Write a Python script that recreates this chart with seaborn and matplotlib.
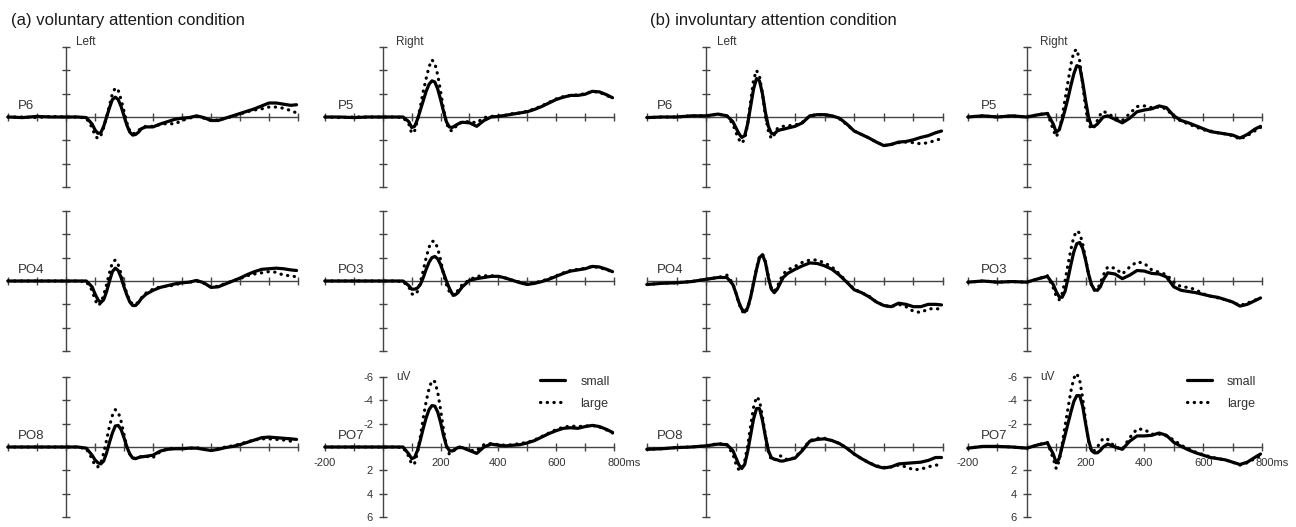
import numpy as np
import pandas as pd
import matplotlib
matplotlib.use("Agg")
import matplotlib.pyplot as plt
import seaborn as sns
from matplotlib.lines import Line2D
from matplotlib.transforms import ScaledTranslation

# ---------------------------------------------------------------------------
# data (uV; negative is up)
# ---------------------------------------------------------------------------
times = [-200, -150, -100, -50, 0, 40, 70, 90,
         100, 110, 120, 130, 140, 150, 160, 170, 180, 190, 200, 210, 220, 230, 240, 250, 260,
         275, 300, 325, 350, 375, 400, 425, 450, 475, 500,
         525, 550, 575, 600, 625, 650, 675, 700, 725, 750, 775, 795]

# (a) voluntary attention condition
a_p6_small = [0.0, 0.05, -0.05, 0.0, 0.0, 0.0, 0.05, 0.6,
              1.1, 1.4, 1.35, 0.8, 0.0, -0.8, -1.5, -1.7, -1.5, -0.9, -0.1, 0.7, 1.3, 1.55, 1.5, 1.3, 1.0,
              0.85, 0.85, 0.6, 0.4, 0.2, 0.1, 0.05, -0.1, 0.05, 0.3,
              0.3, 0.1, -0.1, -0.3, -0.5, -0.7, -0.95, -1.2, -1.2, -1.1, -1.0, -1.05]
a_p6_large = [0.0, 0.0, 0.05, -0.05, 0.0, 0.0, 0.1, 0.9,
              1.6, 1.85, 1.6, 0.9, 0.0, -1.0, -2.0, -2.5, -2.3, -1.5, -0.5, 0.5, 1.2, 1.45, 1.35, 1.15, 0.95,
              0.8, 0.8, 0.65, 0.55, 0.6, 0.3, 0.1, -0.05, 0.1, 0.3,
              0.25, 0.1, -0.05, -0.25, -0.45, -0.6, -0.7, -0.85, -0.85, -0.75, -0.55, -0.35]
a_p5_small = [0.0, 0.0, 0.05, 0.0, 0.0, 0.0, 0.0, 0.4,
              0.9, 0.8, 0.2, -0.6, -1.4, -2.2, -2.8, -3.1, -3.0, -2.4, -1.5, -0.5, 0.4, 0.85, 0.9, 0.75, 0.6,
              0.45, 0.5, 0.8, 0.3, 0.0, -0.05, -0.15, -0.25, -0.35, -0.45,
              -0.65, -0.9, -1.2, -1.5, -1.7, -1.85, -1.85, -1.95, -2.2, -2.15, -1.9, -1.65]
a_p5_large = [0.0, 0.05, 0.0, 0.0, 0.0, 0.0, 0.05, 0.6,
              1.4, 1.2, 0.3, -0.9, -2.2, -3.3, -4.3, -4.9, -4.6, -3.6, -2.2, -0.7, 0.5, 1.1, 1.2, 0.9, 0.6,
              0.4, 0.4, 0.5, 0.05, -0.05, -0.1, -0.15, -0.3, -0.35, -0.5,
              -0.7, -0.95, -1.25, -1.55, -1.75, -1.85, -1.9, -2.0, -2.2, -2.1, -1.85, -1.6]
a_po4_small = [0.0, 0.0, 0.0, 0.0, 0.0, 0.0, 0.0, 0.5,
               1.1, 1.6, 1.85, 1.6, 0.9, 0.0, -0.8, -1.1, -0.9, -0.3, 0.5, 1.2, 1.8, 2.1, 2.1, 1.85, 1.5,
               1.15, 0.8, 0.55, 0.4, 0.25, 0.15, 0.1, -0.05, 0.15, 0.55,
               0.5, 0.25, 0.0, -0.25, -0.55, -0.8, -1.0, -1.05, -1.1, -1.05, -0.95, -0.9]
a_po4_large = [0.0, 0.0, 0.0, 0.0, 0.0, 0.0, 0.05, 0.8,
               1.6, 2.1, 1.9, 1.2, 0.3, -0.7, -1.6, -1.8, -1.4, -0.6, 0.3, 1.1, 1.7, 2.0, 2.0, 1.8, 1.45,
               1.05, 0.7, 0.5, 0.45, 0.35, 0.15, 0.1, 0.0, 0.2, 0.5,
               0.45, 0.2, 0.0, -0.2, -0.45, -0.6, -0.7, -0.8, -0.75, -0.5, -0.45, -0.35]
a_po3_small = [0.0, 0.0, 0.0, 0.0, 0.0, 0.0, 0.0, 0.4,
               0.7, 0.7, 0.6, 0.3, -0.3, -1.0, -1.6, -2.0, -2.1, -1.9, -1.4, -0.7, 0.0, 0.6, 1.1, 1.2, 1.0,
               0.5, -0.05, -0.2, -0.3, -0.4, -0.4, -0.25, -0.05, 0.15, 0.3,
               0.2, 0.05, -0.15, -0.4, -0.65, -0.85, -0.95, -1.05, -1.25, -1.2, -1.0, -0.8]
a_po3_large = [0.0, 0.0, 0.0, 0.0, 0.0, 0.0, 0.05, 0.5,
               1.1, 1.2, 0.9, 0.1, -0.9, -2.0, -2.9, -3.4, -3.4, -2.8, -1.8, -0.6, 0.3, 0.9, 1.25, 1.2, 0.8,
               0.3, -0.1, -0.4, -0.45, -0.45, -0.4, -0.25, -0.05, 0.1, 0.25,
               0.15, 0.0, -0.2, -0.45, -0.7, -0.9, -1.0, -1.1, -1.25, -1.15, -0.95, -0.8]
a_po8_small = [0.0, 0.0, 0.0, 0.0, 0.0, 0.0, 0.1, 0.7,
               1.1, 1.35, 1.45, 1.2, 0.5, -0.4, -1.2, -1.8, -1.85, -1.5, -0.8, 0.0, 0.6, 0.95, 1.0, 0.9, 0.85,
               0.8, 0.7, 0.35, 0.2, 0.15, 0.15, 0.1, 0.1, 0.2, 0.3,
               0.2, 0.05, -0.05, -0.2, -0.4, -0.6, -0.8, -0.85, -0.8, -0.75, -0.7, -0.65]
a_po8_large = [0.0, 0.0, 0.0, 0.0, 0.0, 0.0, 0.15, 1.0,
               1.6, 1.7, 1.4, 0.5, -0.6, -1.8, -2.7, -3.2, -3.0, -2.2, -1.1, 0.0, 0.6, 0.9, 1.0, 0.9, 0.8,
               0.8, 0.9, 0.4, 0.15, 0.1, 0.15, 0.1, 0.05, 0.2, 0.3,
               0.15, 0.0, -0.1, -0.25, -0.45, -0.6, -0.7, -0.7, -0.65, -0.6, -0.5, -0.35]
a_po7_small = [0.0, 0.0, 0.0, 0.0, 0.0, 0.0, 0.0, 0.6,
               1.0, 0.9, 0.3, -0.6, -1.6, -2.5, -3.2, -3.55, -3.5, -3.0, -2.1, -1.0, -0.1, 0.3, 0.35, 0.2, 0.05,
               0.05, 0.3, 0.55, 0.0, -0.25, -0.15, -0.1, -0.15, -0.2, -0.35,
               -0.55, -0.85, -1.15, -1.4, -1.6, -1.65, -1.6, -1.75, -1.85, -1.75, -1.5, -1.25]
a_po7_large = [0.0, 0.0, 0.0, 0.0, 0.0, 0.0, 0.05, 0.8,
               1.5, 1.4, 0.5, -0.9, -2.5, -3.9, -5.0, -5.7, -5.6, -4.7, -3.2, -1.5, -0.1, 0.6, 0.5, 0.2, 0.0,
               0.0, 0.3, 0.3, -0.2, -0.3, -0.2, -0.15, -0.2, -0.3, -0.4,
               -0.6, -0.9, -1.2, -1.5, -1.7, -1.8, -1.75, -1.8, -1.85, -1.7, -1.45, -1.2]

# (b) involuntary attention condition
b_p6_small = [0.05, 0.0, 0.0, -0.1, -0.1, -0.25, -0.1, 0.4,
              0.9, 1.4, 1.75, 1.6, 0.6, -0.9, -2.4, -3.3, -3.1, -2.0, -0.4, 0.8, 1.4, 1.45, 1.2, 1.1, 1.05,
              0.95, 0.8, 0.5, -0.1, -0.2, -0.2, -0.1, 0.1, 0.6, 1.2,
              1.5, 1.8, 2.15, 2.45, 2.35, 2.15, 2.1, 1.95, 1.75, 1.6, 1.35, 1.2]
b_p6_large = [0.05, 0.0, 0.0, -0.1, -0.1, -0.25, -0.1, 0.6,
              1.3, 1.9, 2.25, 1.9, 0.6, -1.3, -3.2, -4.0, -3.5, -2.0, -0.1, 1.2, 1.85, 1.5, 1.0, 0.85, 0.8,
              0.75, 0.7, 0.45, -0.1, -0.2, -0.2, -0.1, 0.15, 0.65, 1.2,
              1.5, 1.8, 2.15, 2.45, 2.35, 2.2, 2.15, 2.2, 2.3, 2.2, 2.0, 1.85]
b_p5_small = [0.0, -0.1, 0.0, -0.1, 0.0, -0.2, -0.3, 0.6,
              1.3, 1.1, 0.3, -0.6, -1.6, -2.7, -3.7, -4.4, -4.3, -3.0, -1.4, 0.0, 0.8, 0.8, 0.6, 0.3, 0.0,
              -0.1, 0.2, 0.5, 0.1, -0.45, -0.6, -0.7, -0.95, -0.8, -0.1,
              0.3, 0.5, 0.75, 1.0, 1.25, 1.35, 1.45, 1.55, 1.8, 1.5, 1.05, 0.8]
b_p5_large = [0.0, -0.1, 0.0, -0.1, 0.0, -0.2, -0.35, 1.1,
              1.7, 1.2, 0.0, -1.5, -3.0, -4.5, -5.6, -5.8, -4.8, -2.8, -0.8, 0.6, 1.05, 0.8, 0.3, -0.2, -0.5,
              -0.3, 0.05, 0.3, -0.3, -0.9, -0.95, -0.8, -0.85, -0.7, 0.0,
              0.35, 0.6, 0.85, 1.1, 1.2, 1.35, 1.45, 1.6, 1.9, 1.6, 1.2, 0.9]
b_po4_small = [0.3, 0.2, 0.15, 0.05, -0.15, -0.3, -0.3, 0.3,
               1.0, 1.8, 2.4, 2.65, 2.3, 1.4, 0.2, -1.0, -2.0, -2.25, -1.6, -0.3, 0.7, 1.0, 0.7, 0.2, -0.3,
               -0.65, -1.0, -1.3, -1.55, -1.5, -1.3, -1.0, -0.5, 0.1, 0.75,
               1.0, 1.35, 1.8, 2.1, 2.2, 1.9, 2.0, 2.2, 2.2, 2.0, 2.0, 2.05]
b_po4_large = [0.3, 0.2, 0.15, 0.05, -0.15, -0.3, -0.5, 0.2,
               1.0, 1.9, 2.55, 2.8, 2.4, 1.4, 0.1, -1.1, -2.1, -2.3, -1.7, -0.4, 0.6, 0.9, 0.5, -0.1, -0.6,
               -0.95, -1.25, -1.6, -1.8, -1.8, -1.55, -1.2, -0.6, 0.05, 0.7,
               1.0, 1.3, 1.8, 2.1, 2.2, 2.0, 2.2, 2.6, 2.7, 2.4, 2.35, 2.45]
b_po3_small = [0.1, 0.0, 0.1, 0.05, 0.1, -0.2, -0.4, 0.3,
               0.9, 1.35, 1.4, 0.9, -0.2, -1.4, -2.5, -3.2, -3.3, -2.8, -1.8, -0.6, 0.3, 0.75, 0.8, 0.5, -0.1,
               -0.7, -0.6, -0.2, -0.5, -0.9, -0.85, -0.65, -0.6, -0.35, 0.5,
               0.8, 0.9, 1.0, 1.15, 1.3, 1.4, 1.6, 1.8, 2.15, 2.0, 1.7, 1.45]
b_po3_large = [0.1, 0.0, 0.1, 0.05, 0.1, -0.2, -0.45, 0.6,
               1.3, 1.6, 1.1, 0.0, -1.4, -2.7, -3.8, -4.3, -4.1, -3.2, -1.9, -0.6, 0.4, 0.8, 0.7, 0.2, -0.5,
               -1.2, -1.1, -0.6, -1.2, -1.65, -1.5, -0.95, -0.75, -0.55, 0.1,
               0.5, 0.55, 0.75, 1.1, 1.3, 1.45, 1.6, 1.8, 2.1, 1.9, 1.65, 1.45]
b_po8_small = [0.2, 0.15, 0.05, 0.0, -0.1, -0.25, -0.2, 0.3,
               0.9, 1.5, 1.85, 1.5, 0.4, -1.0, -2.4, -3.3, -3.3, -2.3, -0.9, 0.3, 0.9, 1.05, 1.1, 1.2, 1.2,
               1.1, 0.95, 0.3, -0.5, -0.65, -0.7, -0.55, -0.3, 0.1, 0.6,
               1.0, 1.35, 1.65, 1.8, 1.7, 1.45, 1.4, 1.35, 1.3, 1.15, 0.9, 0.9]
b_po8_large = [0.2, 0.15, 0.05, 0.0, -0.1, -0.3, -0.2, 0.6,
               1.4, 1.95, 1.9, 1.2, -0.1, -1.8, -3.4, -4.3, -4.0, -2.6, -1.0, 0.4, 1.1, 1.15, 0.9, 0.75, 0.9,
               1.1, 0.9, 0.2, -0.55, -0.75, -0.75, -0.55, -0.3, 0.1, 0.6,
               1.0, 1.35, 1.6, 1.75, 1.7, 1.55, 1.7, 1.95, 1.9, 1.7, 1.55, 1.55]
b_po7_small = [0.1, -0.05, -0.05, 0.0, 0.1, -0.2, -0.35, 0.6,
               1.35, 1.0, 0.0, -1.0, -2.0, -3.0, -3.9, -4.4, -4.4, -3.5, -2.0, -0.6, 0.3, 0.5, 0.5, 0.3, 0.0,
               -0.25, 0.0, 0.2, -0.5, -0.95, -0.95, -1.0, -1.2, -1.0, -0.4,
               -0.05, 0.25, 0.5, 0.7, 0.9, 1.0, 1.1, 1.3, 1.5, 1.3, 0.9, 0.6]
b_po7_large = [0.1, -0.05, -0.05, 0.0, 0.1, -0.2, -0.4, 1.0,
               1.85, 1.2, -0.2, -1.8, -3.3, -4.8, -5.9, -6.3, -5.7, -4.2, -2.2, -0.5, 0.4, 0.3, 0.0, -0.4, -0.75,
               -0.65, 0.0, 0.2, -0.8, -1.55, -1.5, -1.1, -1.1, -0.95, -0.6,
               -0.15, 0.15, 0.45, 0.65, 0.85, 1.0, 1.1, 1.3, 1.55, 1.35, 1.0, 0.75]

conditions = ["(a) voluntary attention condition", "(b) involuntary attention condition"]
channels_left = ["P6", "PO4", "PO8"]
channels_right = ["P5", "PO3", "PO7"]
sizes = ["small", "large"]
xtick_labels = ["-200", "", "", "", "200", "", "400", "", "600", "", "800ms"]
ytick_labels = ["-6", "-4", "-2", "", "2", "4", "6"]

waves = {
    0: [[(a_p6_small, a_p6_large), (a_p5_small, a_p5_large)],
        [(a_po4_small, a_po4_large), (a_po3_small, a_po3_large)],
        [(a_po8_small, a_po8_large), (a_po7_small, a_po7_large)]],
    1: [[(b_p6_small, b_p6_large), (b_p5_small, b_p5_large)],
        [(b_po4_small, b_po4_large), (b_po3_small, b_po3_large)],
        [(b_po8_small, b_po8_large), (b_po7_small, b_po7_large)]],
}

# ---------------------------------------------------------------------------
# layout (pixels of the 1296x527 image)
# ---------------------------------------------------------------------------
W, H = 1296, 527
col_px = {0: [(8, 298), (325, 614)], 1: [(647, 943), (968, 1262)]}  # x of -200 / 800 ms
row_zero = [117, 281, 447]   # y of 0 uV
uv_px = 11.67                # pixels per uV
title_x = {0: 11, 1: 650}

sns.set_style("ticks")
plt.rcParams["font.family"] = ["Liberation Sans", "DejaVu Sans"]
axis_col = "#444444"
text_col = "#333333"

fig = plt.figure(figsize=(W / 100, H / 100), dpi=100)


def add_panel(x_lo, x_hi, y0):
    ppm = (x_hi - x_lo) / 1000.0
    left = x_lo - 12 * ppm
    width = 1024 * ppm
    top = y0 - 7 * uv_px
    height = 14 * uv_px
    return fig.add_axes([left / W, 1 - (top + height) / H, width / W, height / H])


for cond in (0, 1):
    fig.text(title_x[cond] / W, 1 - 20 / H, conditions[cond], fontsize=12,
             color="#1a1a1a", va="center", ha="left")
    for r in range(3):
        for c in range(2):
            x_lo, x_hi = col_px[cond][c]
            ax = add_panel(x_lo, x_hi, row_zero[r])
            small, large = waves[cond][r][c]
            df = pd.DataFrame({
                "time": times * 2,
                "amp": small + large,
                "size": ["small"] * len(times) + ["large"] * len(times),
            })
            sns.lineplot(data=df, x="time", y="amp", style="size", style_order=sizes,
                         dashes={"small": "", "large": (0.1, 2.0)}, color="black",
                         linewidth=2.3, dash_capstyle="round", estimator=None,
                         legend=False, zorder=3, ax=ax)
            ax.set(xlabel="", ylabel="")
            ax.set_xlim(-212, 812)
            ax.set_ylim(7, -7)

            for side in ("top", "right"):
                ax.spines[side].set_visible(False)
            ax.spines["left"].set_position(("data", 0))
            ax.spines["bottom"].set_position(("data", 0))
            ax.spines["left"].set_bounds(-6, 6)
            ax.spines["bottom"].set_bounds(-200, 800)
            for side in ("left", "bottom"):
                ax.spines[side].set_color(axis_col)
                ax.spines[side].set_linewidth(1.0)
            ax.set_xticks(np.arange(-200, 801, 100))
            ax.set_yticks(np.arange(-6, 7, 2))
            ax.tick_params(direction="inout", length=6, width=1.0, color=axis_col,
                           labelsize=8, labelcolor=text_col)
            ax.tick_params(axis="x", pad=5)
            ax.tick_params(axis="y", pad=4)
            ax.patch.set_alpha(0)

            chan = channels_left[r] if c == 0 else channels_right[r]
            ax.text(-165 if c == 0 else -157, -0.4, chan, fontsize=9.5, color=text_col,
                    ha="left", va="bottom")
            if r == 0:
                ax.text(35 if c == 0 else 45, -6.4, "Left" if c == 0 else "Right",
                        fontsize=8.5, color=text_col, ha="left", va="center")

            if r == 2 and c == 1:
                ax.set_xticklabels(xtick_labels)
                ax.set_yticklabels(ytick_labels)
                last = ax.get_xticklabels()[-1]
                last.set_transform(last.get_transform() +
                                   ScaledTranslation(7 / 72, 0, fig.dpi_scale_trans))
                ax.text(45, -6, "uV", fontsize=8.5, color=text_col, ha="left", va="center")
                handles = [Line2D([], [], color="black", lw=2.3),
                           Line2D([], [], color="black", lw=2.3, linestyle=(0, (0.1, 2.0)),
                                  dash_capstyle="round")]
                ax.legend(handles, sizes, loc="upper left", bbox_to_anchor=(545, -6.1),
                          bbox_transform=ax.transData, frameon=False, fontsize=9,
                          handlelength=2.0, handletextpad=1.2, labelspacing=0.8,
                          borderpad=0, borderaxespad=0, labelcolor=text_col)
            else:
                ax.set_xticklabels([])
                ax.set_yticklabels([])

fig.savefig("out.png", dpi=100, facecolor="white")
